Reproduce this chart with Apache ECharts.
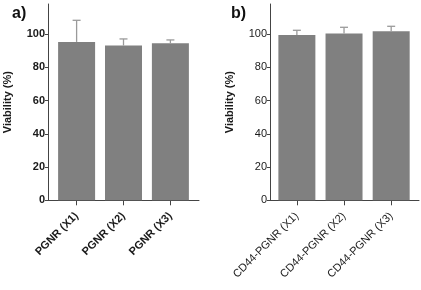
<!DOCTYPE html>
<html>
<head>
<meta charset="utf-8">
<script src="https://cdn.jsdelivr.net/npm/echarts@6/dist/echarts.min.js"></script>
<style>html,body{margin:0;padding:0;background:#fff}#c{width:421px;height:290px}</style>
</head>
<body>
<div id="c"></div>
<script>
const catsA = ['PGNR (X1)', 'PGNR (X2)', 'PGNR (X3)'];
const meanA = [95.2, 93.0, 94.4];
const sdA = [13.0, 4.0, 2.0];
const catsB = ['CD44-PGNR (X1)', 'CD44-PGNR (X2)', 'CD44-PGNR (X3)'];
const meanB = [99.4, 100.2, 101.6];
const sdB = [2.8, 3.8, 3.0];
const yTicks = [0, 20, 40, 60, 80, 100];

const FONT = 'Liberation Sans, Arial, sans-serif';
const AX = '#444';

function barData(m) { return m.map((v, i) => [i, v]); }
function errData(m, s) { return m.map((v, i) => [i, v, s[i]]); }

function errRender(params, api) {
  const x = api.value(0), m = api.value(1), s = api.value(2);
  const p0 = api.coord([x, m]);
  const p1 = api.coord([x, m + s]);
  const style = { stroke: '#9a9a9a', lineWidth: 1.3 };
  return {
    type: 'group',
    children: [
      { type: 'line', shape: { x1: p0[0], y1: p0[1], x2: p1[0], y2: p1[1] }, style },
      { type: 'line', shape: { x1: p1[0] - 4, y1: p1[1], x2: p1[0] + 4, y2: p1[1] }, style }
    ]
  };
}

function xAxisDef(gi, cats, min, max, bold) {
  return {
    type: 'value', gridIndex: gi, min, max,
    axisLine: { show: true, onZero: false, lineStyle: { color: AX, width: 1 } },
    axisTick: { show: true, length: 5, lineStyle: { color: AX }, customValues: cats.map((c, i) => i) },
    axisLabel: {
      customValues: cats.map((c, i) => i),
      formatter: v => cats[Math.round(v)] || '',
      rotate: 45, margin: 14, fontSize: 11, fontFamily: FONT, hideOverlap: false,
      fontWeight: bold ? 'bold' : 'normal', color: '#1a1a1a'
    },
    splitLine: { show: false }
  };
}

function yAxisDef(gi, bold) {
  return {
    type: 'value', gridIndex: gi, min: 0, max: 118,
    name: 'Viability (%)', nameLocation: 'middle', nameGap: 35,
    nameTextStyle: { fontSize: 11, fontWeight: 'bold', fontFamily: FONT, color: '#1a1a1a' },
    axisLine: { show: true, onZero: false, lineStyle: { color: AX, width: 1 } },
    axisTick: { show: true, length: 3, lineStyle: { color: AX }, customValues: yTicks },
    axisLabel: {
      customValues: yTicks, margin: 3, fontSize: 11, fontFamily: FONT,
      fontWeight: bold ? 'bold' : 'normal', color: '#1a1a1a'
    },
    splitLine: { show: false }
  };
}

const chart = echarts.init(document.getElementById('c'), null, { renderer: 'canvas' });
chart.setOption({
  animation: false,
  backgroundColor: '#fff',
  title: [
    { text: 'a)', left: 7, top: 1, textStyle: { fontSize: 16, fontWeight: 'bold', fontFamily: FONT, color: '#111' } },
    { text: 'b)', left: 226, top: 1, textStyle: { fontSize: 16, fontWeight: 'bold', fontFamily: FONT, color: '#111' } }
  ],
  grid: [
    { left: 48, top: 4, width: 151, height: 196.3 },
    { left: 270, top: 4, width: 149, height: 196.3 }
  ],
  xAxis: [xAxisDef(0, catsA, -0.61, 2.61, true), xAxisDef(1, catsB, -0.57, 2.59, false)],
  yAxis: [yAxisDef(0, true), yAxisDef(1, false)],
  series: [
    { type: 'bar', xAxisIndex: 0, yAxisIndex: 0, data: barData(meanA), barWidth: 37, itemStyle: { color: '#808080' } },
    { type: 'custom', xAxisIndex: 0, yAxisIndex: 0, data: errData(meanA, sdA), renderItem: errRender, z: 3 },
    { type: 'bar', xAxisIndex: 1, yAxisIndex: 1, data: barData(meanB), barWidth: 37, itemStyle: { color: '#808080' } },
    { type: 'custom', xAxisIndex: 1, yAxisIndex: 1, data: errData(meanB, sdB), renderItem: errRender, z: 3 }
  ]
});
</script>
</body>
</html>
